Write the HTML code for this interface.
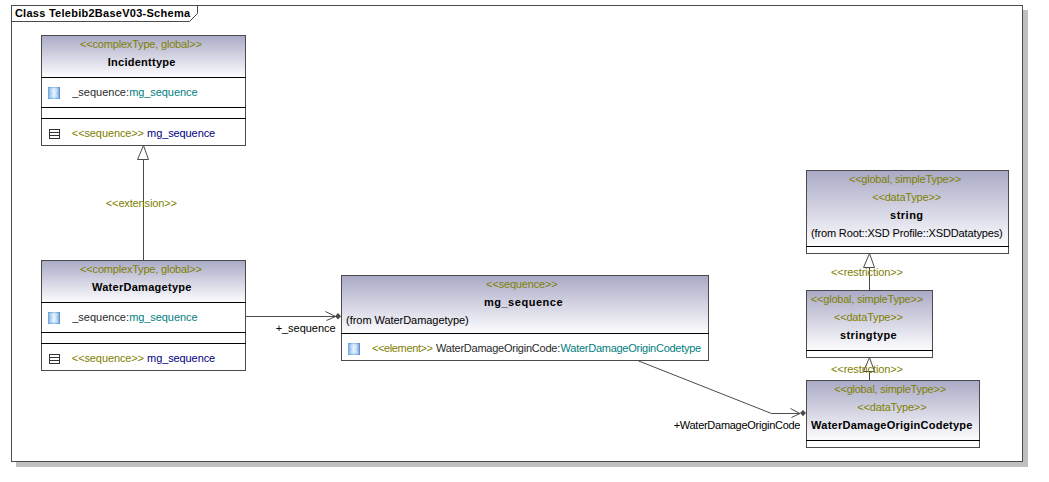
<!DOCTYPE html>
<html lang="en"><head><meta charset="utf-8"><title>Class Telebib2BaseV03-Schema</title>
<style>html,body{margin:0;padding:0;background:#fff;overflow:hidden}svg{display:block;font-family:"Liberation Sans",Arial,sans-serif;font-size:11px}</style></head><body>
<svg width="1049" height="482" viewBox="0 0 1049 482">
<defs>
<linearGradient id="hg" x1="0" y1="0" x2="0" y2="1"><stop offset="0" stop-color="#a9a9c6"/><stop offset="1" stop-color="#fcfcfe"/></linearGradient>
<linearGradient id="ih" x1="0" y1="0" x2="1" y2="0"><stop offset="0" stop-color="#6a9eda"/><stop offset=".15" stop-color="#9cc2ec"/><stop offset=".45" stop-color="#dcf0fd"/><stop offset=".6" stop-color="#d4ecfc"/><stop offset=".85" stop-color="#98bfea"/><stop offset="1" stop-color="#4a7ebc"/></linearGradient>
<linearGradient id="iv" x1="0" y1="0" x2="0" y2="1"><stop offset="0" stop-color="#4a86c8" stop-opacity=".55"/><stop offset=".14" stop-color="#4a86c8" stop-opacity="0"/><stop offset=".84" stop-color="#4f93e6" stop-opacity="0"/><stop offset="1" stop-color="#4f93e6" stop-opacity=".6"/></linearGradient>
</defs>
<rect width="1049" height="482" fill="#fff"/>
<rect x="16" y="10" width="1012" height="457" fill="#c0c0c0"/>
<rect x="11" y="5" width="1012" height="457" fill="#fff"/>
<rect x="11.5" y="5.5" width="1011" height="456" fill="none" stroke="#4a4a4a"/>
<path d="M11.5 21.5H189.5L197.5 13.5V5.5" fill="none" stroke="#4a4a4a"/>
<text id="title" x="14.88" y="17" fill="#000" textLength="175.17" lengthAdjust="spacing" font-weight="bold">Class Telebib2BaseV03-Schema</text>
<rect x="143" y="159" width="1" height="102" fill="#4a4a4a"/>
<path d="M143.5 145.5L148.5 159.5H137.5Z" fill="#fff" stroke="#4a4a4a" stroke-width="1"/>
<text id="ext" x="105.84" y="207" fill="#808000" textLength="71.02" lengthAdjust="spacing">&lt;&lt;extension&gt;&gt;</text>
<rect x="869" y="267" width="1" height="24" fill="#4a4a4a"/>
<path d="M869.5 253.5L874.5 267.5H863.5Z" fill="#fff" stroke="#4a4a4a" stroke-width="1"/>
<text id="res1" x="831.02" y="276" fill="#808000" textLength="72.04" lengthAdjust="spacing">&lt;&lt;restriction&gt;&gt;</text>
<rect x="869" y="371" width="1" height="10" fill="#4a4a4a"/>
<path d="M869.5 357.5L874.5 371.5H863.5Z" fill="#fff" stroke="#4a4a4a" stroke-width="1"/>
<text id="res2" x="831.02" y="373" fill="#808000" textLength="72.04" lengthAdjust="spacing">&lt;&lt;restriction&gt;&gt;</text>
<rect x="246" y="316" width="90" height="1" fill="#4a4a4a"/>
<path d="M325.5 311.5L335.5 316.5L326.5 320.5" fill="none" stroke="#4a4a4a"/>
<path d="M335 316.2L338 313L341 316.2L338 319.4Z" fill="#4a4a4a"/>
<text id="lab1" x="275.63" y="332" fill="#000" textLength="59.93" lengthAdjust="spacing">+_sequence</text>
<path d="M637.5 360.5L771.5 413.5H800" fill="none" stroke="#4a4a4a"/>
<path d="M790.5 408.5L800 413.5L791.5 417.5" fill="none" stroke="#4a4a4a"/>
<path d="M800 413.1L803 409.9L806 413.1L803 416.3Z" fill="#4a4a4a"/>
<text id="lab2" x="673.65" y="429" fill="#000" textLength="126.83" lengthAdjust="spacing">+WaterDamageOriginCode</text>
<rect x="41" y="35" width="205" height="111" fill="#fff"/>
<rect x="41" y="35" width="205" height="42" fill="url(#hg)"/>
<rect x="41.5" y="35.5" width="204" height="110" fill="none" stroke="#4a4a4a"/>
<rect x="41" y="77" width="205" height="1" fill="#000"/>
<rect x="41" y="107" width="205" height="1" fill="#000"/>
<rect x="41" y="118" width="205" height="1" fill="#000"/>
<text id="b1s" x="80.09" y="48" fill="#808000" textLength="121.77" lengthAdjust="spacing">&lt;&lt;complexType, global&gt;&gt;</text>
<text id="b1n" x="107.78" y="66" fill="#000" textLength="67.62" lengthAdjust="spacing" font-weight="bold">Incidenttype</text>
<g transform="translate(48,87)"><rect width="12" height="12" fill="url(#ih)"/><rect width="12" height="12" fill="url(#iv)"/><path d="M1.5 1.5L10.5 10.5M10.5 1.5L1.5 10.5" stroke="#fff" stroke-opacity=".35" fill="none"/></g>
<text id="b1a1" x="72.23" y="96" fill="#2a2a2a" textLength="56.81" lengthAdjust="spacing">_sequence:</text>
<text id="b1a2" x="129.18" y="96" fill="#008080" textLength="68.32" lengthAdjust="spacing">mg_sequence</text>
<g transform="translate(49,129)" fill="none" stroke="#333"><rect x=".5" y=".5" width="10" height="9"/><path d="M0 3.5H11M0 6.5H11"/></g>
<text id="b1o1" x="71.85" y="137" fill="#808000" textLength="72.18" lengthAdjust="spacing">&lt;&lt;sequence&gt;&gt;</text>
<text id="b1o2" x="147.1" y="137" fill="#000080" textLength="68.06" lengthAdjust="spacing">mg_sequence</text>
<rect x="41" y="260" width="205" height="111" fill="#fff"/>
<rect x="41" y="260" width="205" height="42" fill="url(#hg)"/>
<rect x="41.5" y="260.5" width="204" height="110" fill="none" stroke="#4a4a4a"/>
<rect x="41" y="302" width="205" height="1" fill="#000"/>
<rect x="41" y="332" width="205" height="1" fill="#000"/>
<rect x="41" y="343" width="205" height="1" fill="#000"/>
<text id="b2s" x="80.11" y="273" fill="#808000" textLength="121.75" lengthAdjust="spacing">&lt;&lt;complexType, global&gt;&gt;</text>
<text id="b2n" x="91.9" y="291" fill="#000" textLength="99.54" lengthAdjust="spacing" font-weight="bold">WaterDamagetype</text>
<g transform="translate(48,312)"><rect width="12" height="12" fill="url(#ih)"/><rect width="12" height="12" fill="url(#iv)"/><path d="M1.5 1.5L10.5 10.5M10.5 1.5L1.5 10.5" stroke="#fff" stroke-opacity=".35" fill="none"/></g>
<text id="b2a1" x="72.23" y="321" fill="#2a2a2a" textLength="56.81" lengthAdjust="spacing">_sequence:</text>
<text id="b2a2" x="129.18" y="321" fill="#008080" textLength="68.32" lengthAdjust="spacing">mg_sequence</text>
<g transform="translate(49,354)" fill="none" stroke="#333"><rect x=".5" y=".5" width="10" height="9"/><path d="M0 3.5H11M0 6.5H11"/></g>
<text id="b2o1" x="71.85" y="362" fill="#808000" textLength="72.18" lengthAdjust="spacing">&lt;&lt;sequence&gt;&gt;</text>
<text id="b2o2" x="147.1" y="362" fill="#000080" textLength="68.06" lengthAdjust="spacing">mg_sequence</text>
<rect x="341" y="275" width="368" height="86" fill="#fff"/>
<rect x="341" y="275" width="368" height="58" fill="url(#hg)"/>
<rect x="341.5" y="275.5" width="367" height="85" fill="none" stroke="#4a4a4a"/>
<rect x="341" y="333" width="368" height="1" fill="#000"/>
<text id="b3s" x="486.12" y="288" fill="#808000" textLength="71.54" lengthAdjust="spacing">&lt;&lt;sequence&gt;&gt;</text>
<text id="b3n" x="483.91" y="306" fill="#000" textLength="78.71" lengthAdjust="spacing" font-weight="bold">mg_sequence</text>
<text id="b3f" x="346.09" y="324" fill="#000" textLength="122.63" lengthAdjust="spacing">(from WaterDamagetype)</text>
<g transform="translate(348,343)"><rect width="12" height="12" fill="url(#ih)"/><rect width="12" height="12" fill="url(#iv)"/><path d="M1.5 1.5L10.5 10.5M10.5 1.5L1.5 10.5" stroke="#fff" stroke-opacity=".35" fill="none"/></g>
<text id="b3a1" x="371.9" y="352" fill="#808000" textLength="61.16" lengthAdjust="spacing">&lt;&lt;element&gt;&gt;</text>
<text id="b3a2" x="436.09" y="352" fill="#2a2a2a" textLength="124.11" lengthAdjust="spacing">WaterDamageOriginCode:</text>
<text id="b3a3" x="560.59" y="352" fill="#008080" textLength="140.62" lengthAdjust="spacing">WaterDamageOriginCodetype</text>
<rect x="806" y="170" width="203" height="84" fill="#fff"/>
<rect x="806" y="170" width="203" height="76" fill="url(#hg)"/>
<rect x="806.5" y="170.5" width="202" height="83" fill="none" stroke="#4a4a4a"/>
<rect x="806" y="246" width="203" height="1" fill="#000"/>
<text id="b4s1" x="848.94" y="183" fill="#808000" textLength="112.15" lengthAdjust="spacing">&lt;&lt;global, simpleType&gt;&gt;</text>
<text id="b4s2" x="872.18" y="201" fill="#808000" textLength="68.9" lengthAdjust="spacing">&lt;&lt;dataType&gt;&gt;</text>
<text id="b4n" x="890.06" y="219" fill="#000" textLength="33.03" lengthAdjust="spacing" font-weight="bold">string</text>
<text id="b4f" x="810.95" y="237" fill="#000" textLength="191.81" lengthAdjust="spacing">(from Root::XSD Profile::XSDDatatypes)</text>
<rect x="806" y="290" width="127" height="68" fill="#fff"/>
<rect x="806" y="290" width="127" height="60" fill="url(#hg)"/>
<rect x="806.5" y="290.5" width="126" height="67" fill="none" stroke="#4a4a4a"/>
<rect x="806" y="350" width="127" height="1" fill="#000"/>
<text id="b5s1" x="810.86" y="303" fill="#808000" textLength="112.27" lengthAdjust="spacing">&lt;&lt;global, simpleType&gt;&gt;</text>
<text id="b5s2" x="833.93" y="321" fill="#808000" textLength="69.02" lengthAdjust="spacing">&lt;&lt;dataType&gt;&gt;</text>
<text id="b5n" x="840.03" y="339" fill="#000" textLength="56.68" lengthAdjust="spacing" font-weight="bold">stringtype</text>
<rect x="806" y="380" width="174" height="68" fill="#fff"/>
<rect x="806" y="380" width="174" height="60" fill="url(#hg)"/>
<rect x="806.5" y="380.5" width="173" height="67" fill="none" stroke="#4a4a4a"/>
<rect x="806" y="440" width="174" height="1" fill="#000"/>
<text id="b6s1" x="834.27" y="393" fill="#808000" textLength="111.84" lengthAdjust="spacing">&lt;&lt;global, simpleType&gt;&gt;</text>
<text id="b6s2" x="857.21" y="411" fill="#808000" textLength="69.38" lengthAdjust="spacing">&lt;&lt;dataType&gt;&gt;</text>
<text id="b6n" x="811.11" y="429" fill="#000" textLength="161.29" lengthAdjust="spacing" font-weight="bold">WaterDamageOriginCodetype</text>
</svg></body></html>
